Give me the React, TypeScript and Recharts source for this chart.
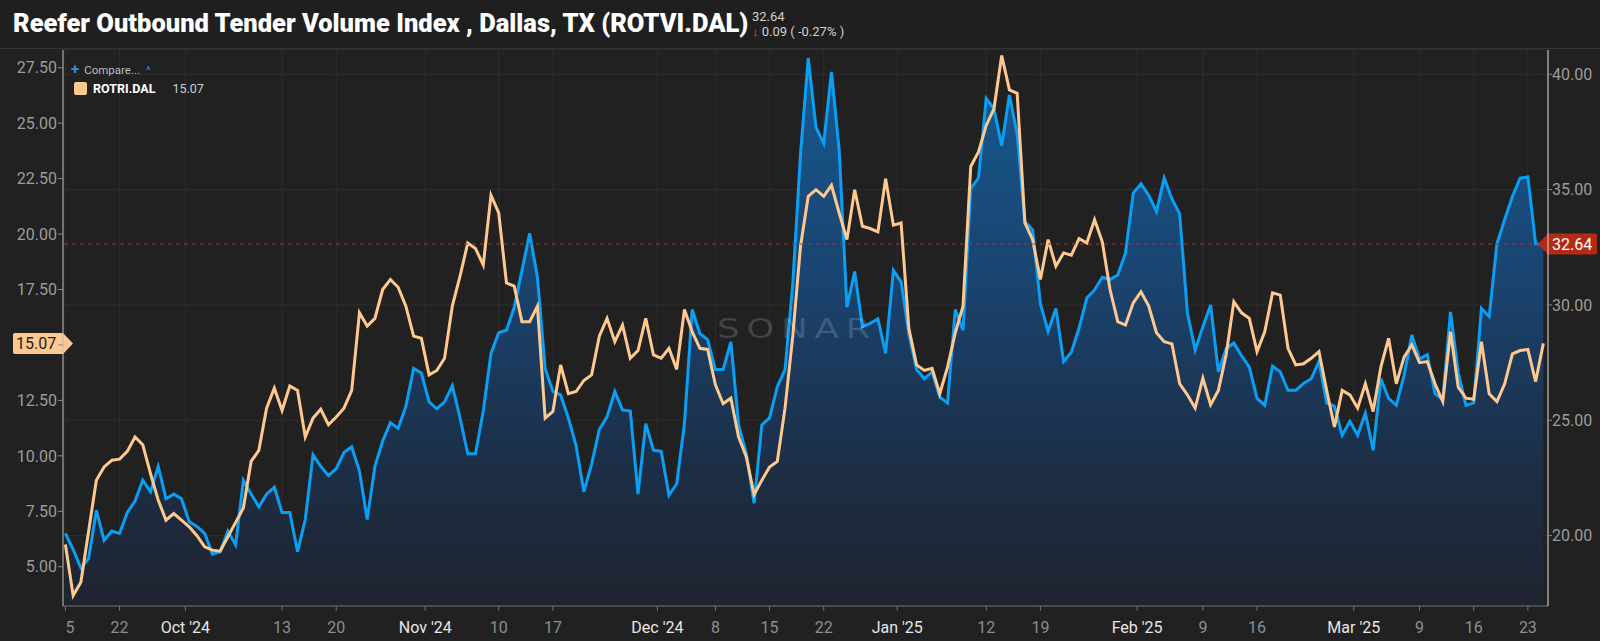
import { ComposedChart, Area, Line, XAxis, YAxis, CartesianGrid, ReferenceLine } from 'recharts';

const FONT = 'Roboto, "Noto Sans", Arial, sans-serif';

// Reefer Outbound Tender Volume Index, Dallas (right axis), daily from Sep 15 2024
const ROTVI = [
  20.1, 19.4, 18.6, 19.0, 21.1, 19.8, 20.2, 20.1, 21.0, 21.5,
  22.4, 21.9, 23.0, 21.6, 21.8, 21.6, 20.6, 20.4, 20.1, 19.2,
  19.3, 20.2, 19.6, 22.4, 21.8, 21.25, 21.8, 22.1, 21.0, 21.0,
  19.3, 20.7, 23.5, 23.0, 22.6, 22.9, 23.6, 23.85, 22.8, 20.7,
  23.0, 24.1, 24.9, 24.65, 25.6, 27.25, 27.05, 25.8, 25.5, 25.8,
  26.5, 25.1, 23.55, 23.55, 25.4, 27.9, 28.8, 28.9, 29.9, 31.5,
  33.1, 31.2, 27.25, 26.25, 26.1, 25.1, 23.9, 21.9, 23.1, 24.6,
  25.15, 26.25, 25.45, 25.4, 21.8, 24.85, 23.7, 23.65, 21.75, 22.25,
  24.85, 29.8, 28.75, 28.5, 27.2, 27.2, 28.4, 24.8, 23.55, 21.4,
  24.8, 25.1, 26.45, 27.2, 30.9, 36.55, 40.7, 37.7, 37.0, 40.1,
  36.7, 29.9, 31.45, 29.05, 29.2, 29.4, 27.9, 31.5, 31.0, 28.75,
  27.2, 26.8, 27.1, 26.0, 25.75, 29.8, 28.9, 35.05, 35.5, 38.95,
  38.5, 36.9, 39.1, 37.4, 33.6, 33.25, 30.05, 28.85, 29.85, 27.55,
  27.95, 29.0, 30.3, 30.65, 31.2, 31.1, 31.3, 32.25, 34.85, 35.25,
  34.75, 34.05, 35.5, 34.6, 33.95, 29.65, 28.05, 29.05, 30.0, 27.1,
  28.1, 28.35, 27.8, 27.3, 25.95, 25.65, 27.35, 27.1, 26.3, 26.3,
  26.6, 26.8, 27.55, 25.75, 25.6, 24.35, 24.95, 24.35, 25.3, 23.7,
  26.8, 25.95, 25.65, 26.95, 28.7, 27.65, 27.85, 26.15, 25.9, 29.7,
  27.05, 25.65, 25.75, 29.85, 29.5, 32.65, 33.7, 34.7, 35.5, 35.55,
  32.65, 32.64,
];

// Reefer Outbound Tender Reject Index, Dallas (left axis)
const ROTRI = [
  6.0, 3.7, 4.3, 6.6, 8.9, 9.5, 9.8, 9.85, 10.2, 10.85,
  10.5, 9.2, 8.0, 7.1, 7.4, 7.1, 6.8, 6.4, 5.9, 5.75,
  5.7, 6.35, 7.0, 7.65, 9.75, 10.25, 12.15, 13.05, 12.05, 13.15,
  12.95, 10.85, 11.7, 12.1, 11.4, 11.75, 12.15, 12.95, 16.45, 15.85,
  16.2, 17.5, 17.95, 17.6, 16.75, 15.4, 15.3, 13.65, 13.85, 14.4,
  16.75, 18.1, 19.6, 19.35, 18.6, 21.75, 20.95, 17.8, 17.65, 16.05,
  16.05, 16.75, 11.7, 12.0, 14.1, 12.8, 12.9, 13.4, 13.65, 15.4,
  16.2, 15.15, 15.9, 14.4, 14.75, 16.2, 14.55, 14.4, 14.85, 13.9,
  16.6, 15.6, 14.85, 14.8, 13.2, 12.35, 12.6, 10.85, 9.95, 8.25,
  8.9, 9.5, 9.75, 12.15, 15.4, 19.45, 21.7, 22.0, 21.7, 22.2,
  20.95, 19.75, 22.0, 20.35, 20.25, 20.1, 22.5, 20.4, 20.5, 15.75,
  14.1, 13.85, 13.95, 12.8, 14.0, 15.55, 16.75, 23.05, 23.7, 24.9,
  25.65, 28.05, 26.5, 26.35, 20.5, 19.75, 17.95, 19.75, 18.55, 19.15,
  19.05, 19.8, 19.6, 20.65, 19.65, 17.5, 16.05, 15.9, 16.9, 17.4,
  16.75, 15.55, 15.15, 15.05, 13.25, 12.75, 12.15, 13.5, 12.3, 12.95,
  14.55, 16.95, 16.45, 16.2, 14.7, 15.6, 17.35, 17.25, 14.85, 14.1,
  14.15, 14.4, 14.7, 12.95, 11.3, 12.95, 12.75, 12.15, 13.25, 12.0,
  14.0, 15.3, 13.25, 14.45, 15.0, 14.2, 14.25, 13.25, 12.45, 15.6,
  13.1, 12.6, 12.55, 15.15, 12.8, 12.45, 13.25, 14.6, 14.75, 14.8,
  13.35, 15.07,
];

const TICK_DATES = [
  '2024-09-15', '2024-09-22', '2024-10-01', '2024-10-13', '2024-10-20', '2024-11-01',
  '2024-11-10', '2024-11-17', '2024-12-01', '2024-12-08', '2024-12-15', '2024-12-22',
  '2025-01-01', '2025-01-12', '2025-01-19', '2025-02-01', '2025-02-09', '2025-02-16',
  '2025-03-01', '2025-03-09', '2025-03-16', '2025-03-23',
];
const TICK_LABELS = [
  '15', '22', "Oct '24", '13', '20', "Nov '24", '10', '17', "Dec '24", '8', '15', '22',
  "Jan '25", '12', '19', "Feb '25", '9', '16', "Mar '25", '9', '16', '23',
];

const LEFT_TICKS = [5, 7.5, 10, 12.5, 15, 17.5, 20, 22.5, 25, 27.5];
const RIGHT_TICKS = [20, 25, 30, 35, 40];

const LAST_ROTVI = 32.64;
const LAST_ROTRI = 15.07;

const START = Date.UTC(2024, 8, 15);
const DAY = 86400000;

const data = ROTVI.map((v, i) => ({ day: i, rotvi: v, rotri: ROTRI[i] }));

// month ticks sit at the start of the day, weekly ones mid-day
const tickValues = TICK_DATES.map((d, i) => {
  const offset = (Date.parse(d) - START) / DAY;
  return TICK_LABELS[i].includes("'") ? offset - 0.5 : offset;
});

const XTick = (props: any) => {
  const { x, y, payload } = props;
  const idx = tickValues.indexOf(payload.value);
  const label = TICK_LABELS[idx] ?? '';
  const isMonth = label.includes("'");
  // first label is cut by the left edge of the plot
  const text = idx === 0 ? label.slice(1) : label;
  return (
    <text
      x={x}
      y={y + 20}
      textAnchor={idx === 0 ? 'start' : 'middle'}
      fill={isMonth ? '#e6e6e6' : '#8e8e8e'}
      fontSize={16}
      fontFamily={FONT}
    >
      {text}
    </text>
  );
};

const PriceTag = (props: any) => {
  const { viewBox, side, text, fill, color } = props;
  if (!viewBox) return null;
  const cy = viewBox.y;
  const h = 10.5;
  if (side === 'right') {
    const edge = viewBox.x + viewBox.width;
    const tip = edge - 10;
    const end = edge + 49;
    const d = `M${tip},${cy} L${edge},${cy - h} L${end - 2},${cy - h} Q${end},${cy - h} ${end},${cy - h + 2} L${end},${cy + h - 2} Q${end},${cy + h} ${end - 2},${cy + h} L${edge},${cy + h} Z`;
    return (
      <g>
        <path d={d} fill={fill} />
        <text x={edge + 4} y={cy + 6} fill={color} fontSize={16} fontFamily={FONT}>
          {text}
        </text>
      </g>
    );
  }
  const edge = viewBox.x;
  const tip = edge + 10;
  const start = edge - 50;
  const d = `M${tip},${cy} L${edge},${cy - h} L${start + 2},${cy - h} Q${start},${cy - h} ${start},${cy - h + 2} L${start},${cy + h - 2} Q${start},${cy + h} ${start + 2},${cy + h} L${edge},${cy + h} Z`;
  return (
    <g>
      <path d={d} fill={fill} />
      <text x={start + 3} y={cy + 6} fill={color} fontSize={16} fontFamily={FONT}>
        {text}
      </text>
    </g>
  );
};

export default function App() {
  return (
    <div style={{ position: 'relative', width: 1600, height: 641, background: '#212121', fontFamily: FONT, overflow: 'hidden' }}>
      <style>{'body{margin:0;background:#212121}'}</style>

      <div
        style={{
          position: 'absolute',
          left: 0,
          top: 0,
          width: 1600,
          height: 48,
          background: '#1f1f1f',
          borderBottom: '1px solid #343434',
        }}
      >
        <div style={{ position: 'absolute', left: 13, top: 8, color: '#ffffff', fontSize: 25.5, fontWeight: 900, whiteSpace: 'nowrap' }}>
          Reefer Outbound Tender Volume Index , Dallas, TX (ROTVI.DAL)
        </div>
        <div style={{ position: 'absolute', left: 752, top: 9, color: '#d0d0d0', fontSize: 13, lineHeight: '15px' }}>
          {LAST_ROTVI.toFixed(2)}
        </div>
        <div style={{ position: 'absolute', left: 752, top: 24, color: '#d0d0d0', fontSize: 13, lineHeight: '15px', whiteSpace: 'nowrap' }}>
          <span style={{ color: '#e5463c' }}>↓</span> 0.09 ( -0.27% )
        </div>
      </div>

      <div style={{ position: 'absolute', left: 0, top: 0 }}>
        <ComposedChart width={1600} height={641} data={data} margin={{ top: 50, right: 0, bottom: 0, left: 0 }}>
          <defs>
            <linearGradient id="rotviFill" x1="0" y1="0" x2="0" y2="1">
              <stop offset="0%" stopColor="#155a92" />
              <stop offset="40%" stopColor="#1a4470" />
              <stop offset="75%" stopColor="#1c2e45" />
              <stop offset="100%" stopColor="#1f2430" />
            </linearGradient>
          </defs>
          <CartesianGrid yAxisId="right" stroke="#2d2d2d" strokeWidth={1} />
          <XAxis
            dataKey="day"
            type="number"
            domain={[-0.31, 191.6]}
            allowDataOverflow
            ticks={tickValues}
            interval={0}
            height={35}
            tickSize={5}
            axisLine={{ stroke: '#707070' }}
            tickLine={{ stroke: '#707070' }}
            tick={<XTick />}
          />
          <YAxis
            yAxisId="left"
            orientation="left"
            width={63}
            type="number"
            domain={[3.23, 28.3]}
            allowDataOverflow
            ticks={LEFT_TICKS}
            interval={0}
            // the 15.00 label sits under the ROTRI price tag
            tickFormatter={(v: number) => (v === 15 ? '' : v.toFixed(2))}
            tickSize={5}
            tickMargin={1}
            axisLine={{ stroke: '#bdbdbd' }}
            tickLine={{ stroke: '#8a8a8a' }}
            tick={{ fill: '#9c9c9c', fontSize: 16, fontFamily: FONT }}
          />
          <YAxis
            yAxisId="right"
            orientation="right"
            width={52}
            type="number"
            domain={[16.95, 41.05]}
            allowDataOverflow
            ticks={RIGHT_TICKS}
            interval={0}
            tickFormatter={(v: number) => v.toFixed(2)}
            tickSize={4}
            tickMargin={0}
            axisLine={{ stroke: '#dcdcdc' }}
            tickLine={{ stroke: '#8a8a8a' }}
            tick={{ fill: '#9c9c9c', fontSize: 16, fontFamily: FONT }}
          />
          <Area
            yAxisId="right"
            type="linear"
            dataKey="rotvi"
            stroke="#0b9ef5"
            strokeWidth={3}
            fill="url(#rotviFill)"
            fillOpacity={1}
            dot={false}
            activeDot={false}
            isAnimationActive={false}
          />
          <Line
            yAxisId="left"
            type="linear"
            dataKey="rotri"
            stroke="#ffc88f"
            strokeWidth={3}
            dot={false}
            activeDot={false}
            isAnimationActive={false}
          />
          <ReferenceLine
            yAxisId="right"
            y={LAST_ROTVI}
            stroke="#a23d2e"
            strokeDasharray="4 4"
            label={<PriceTag side="right" text={LAST_ROTVI.toFixed(2)} fill="#b52a14" color="#ffffff" />}
          />
          <ReferenceLine
            yAxisId="left"
            y={LAST_ROTRI}
            stroke="none"
            label={<PriceTag side="left" text={LAST_ROTRI.toFixed(2)} fill="#ffc88f" color="#1e1e1e" />}
          />
        </ComposedChart>
      </div>

      {/* watermark */}
      <svg width={1600} height={641} style={{ position: 'absolute', left: 0, top: 0, pointerEvents: 'none' }}>
        <text
          x={717}
          y={338}
          fontSize={27}
          fontFamily='"DejaVu Sans", sans-serif'
          letterSpacing={5}
          textLength={160}
          lengthAdjust="spacingAndGlyphs"
          fill="rgba(255,255,255,0.16)"
        >
          SONAR
        </text>
      </svg>

      <div style={{ position: 'absolute', left: 71, top: 60, fontSize: 11.5, color: '#bdbdbd', whiteSpace: 'nowrap' }}>
        <span style={{ color: '#2f8fe8', fontSize: 15, fontWeight: 700, marginRight: 5 }}>+</span>
        Compare...
        <span style={{ color: '#2f8fe8', marginLeft: 6, fontSize: 11 }}>^</span>
      </div>
      <div style={{ position: 'absolute', left: 74, top: 81, display: 'flex', alignItems: 'center', whiteSpace: 'nowrap' }}>
        <span style={{ width: 13, height: 13, borderRadius: 2, background: '#ffc88f', display: 'inline-block' }} />
        <span style={{ marginLeft: 6, color: '#ffffff', fontWeight: 700, fontSize: 12.5 }}>ROTRI.DAL</span>
        <span style={{ marginLeft: 17, color: '#cfcfcf', fontSize: 12.5 }}>{LAST_ROTRI.toFixed(2)}</span>
      </div>
    </div>
  );
}
